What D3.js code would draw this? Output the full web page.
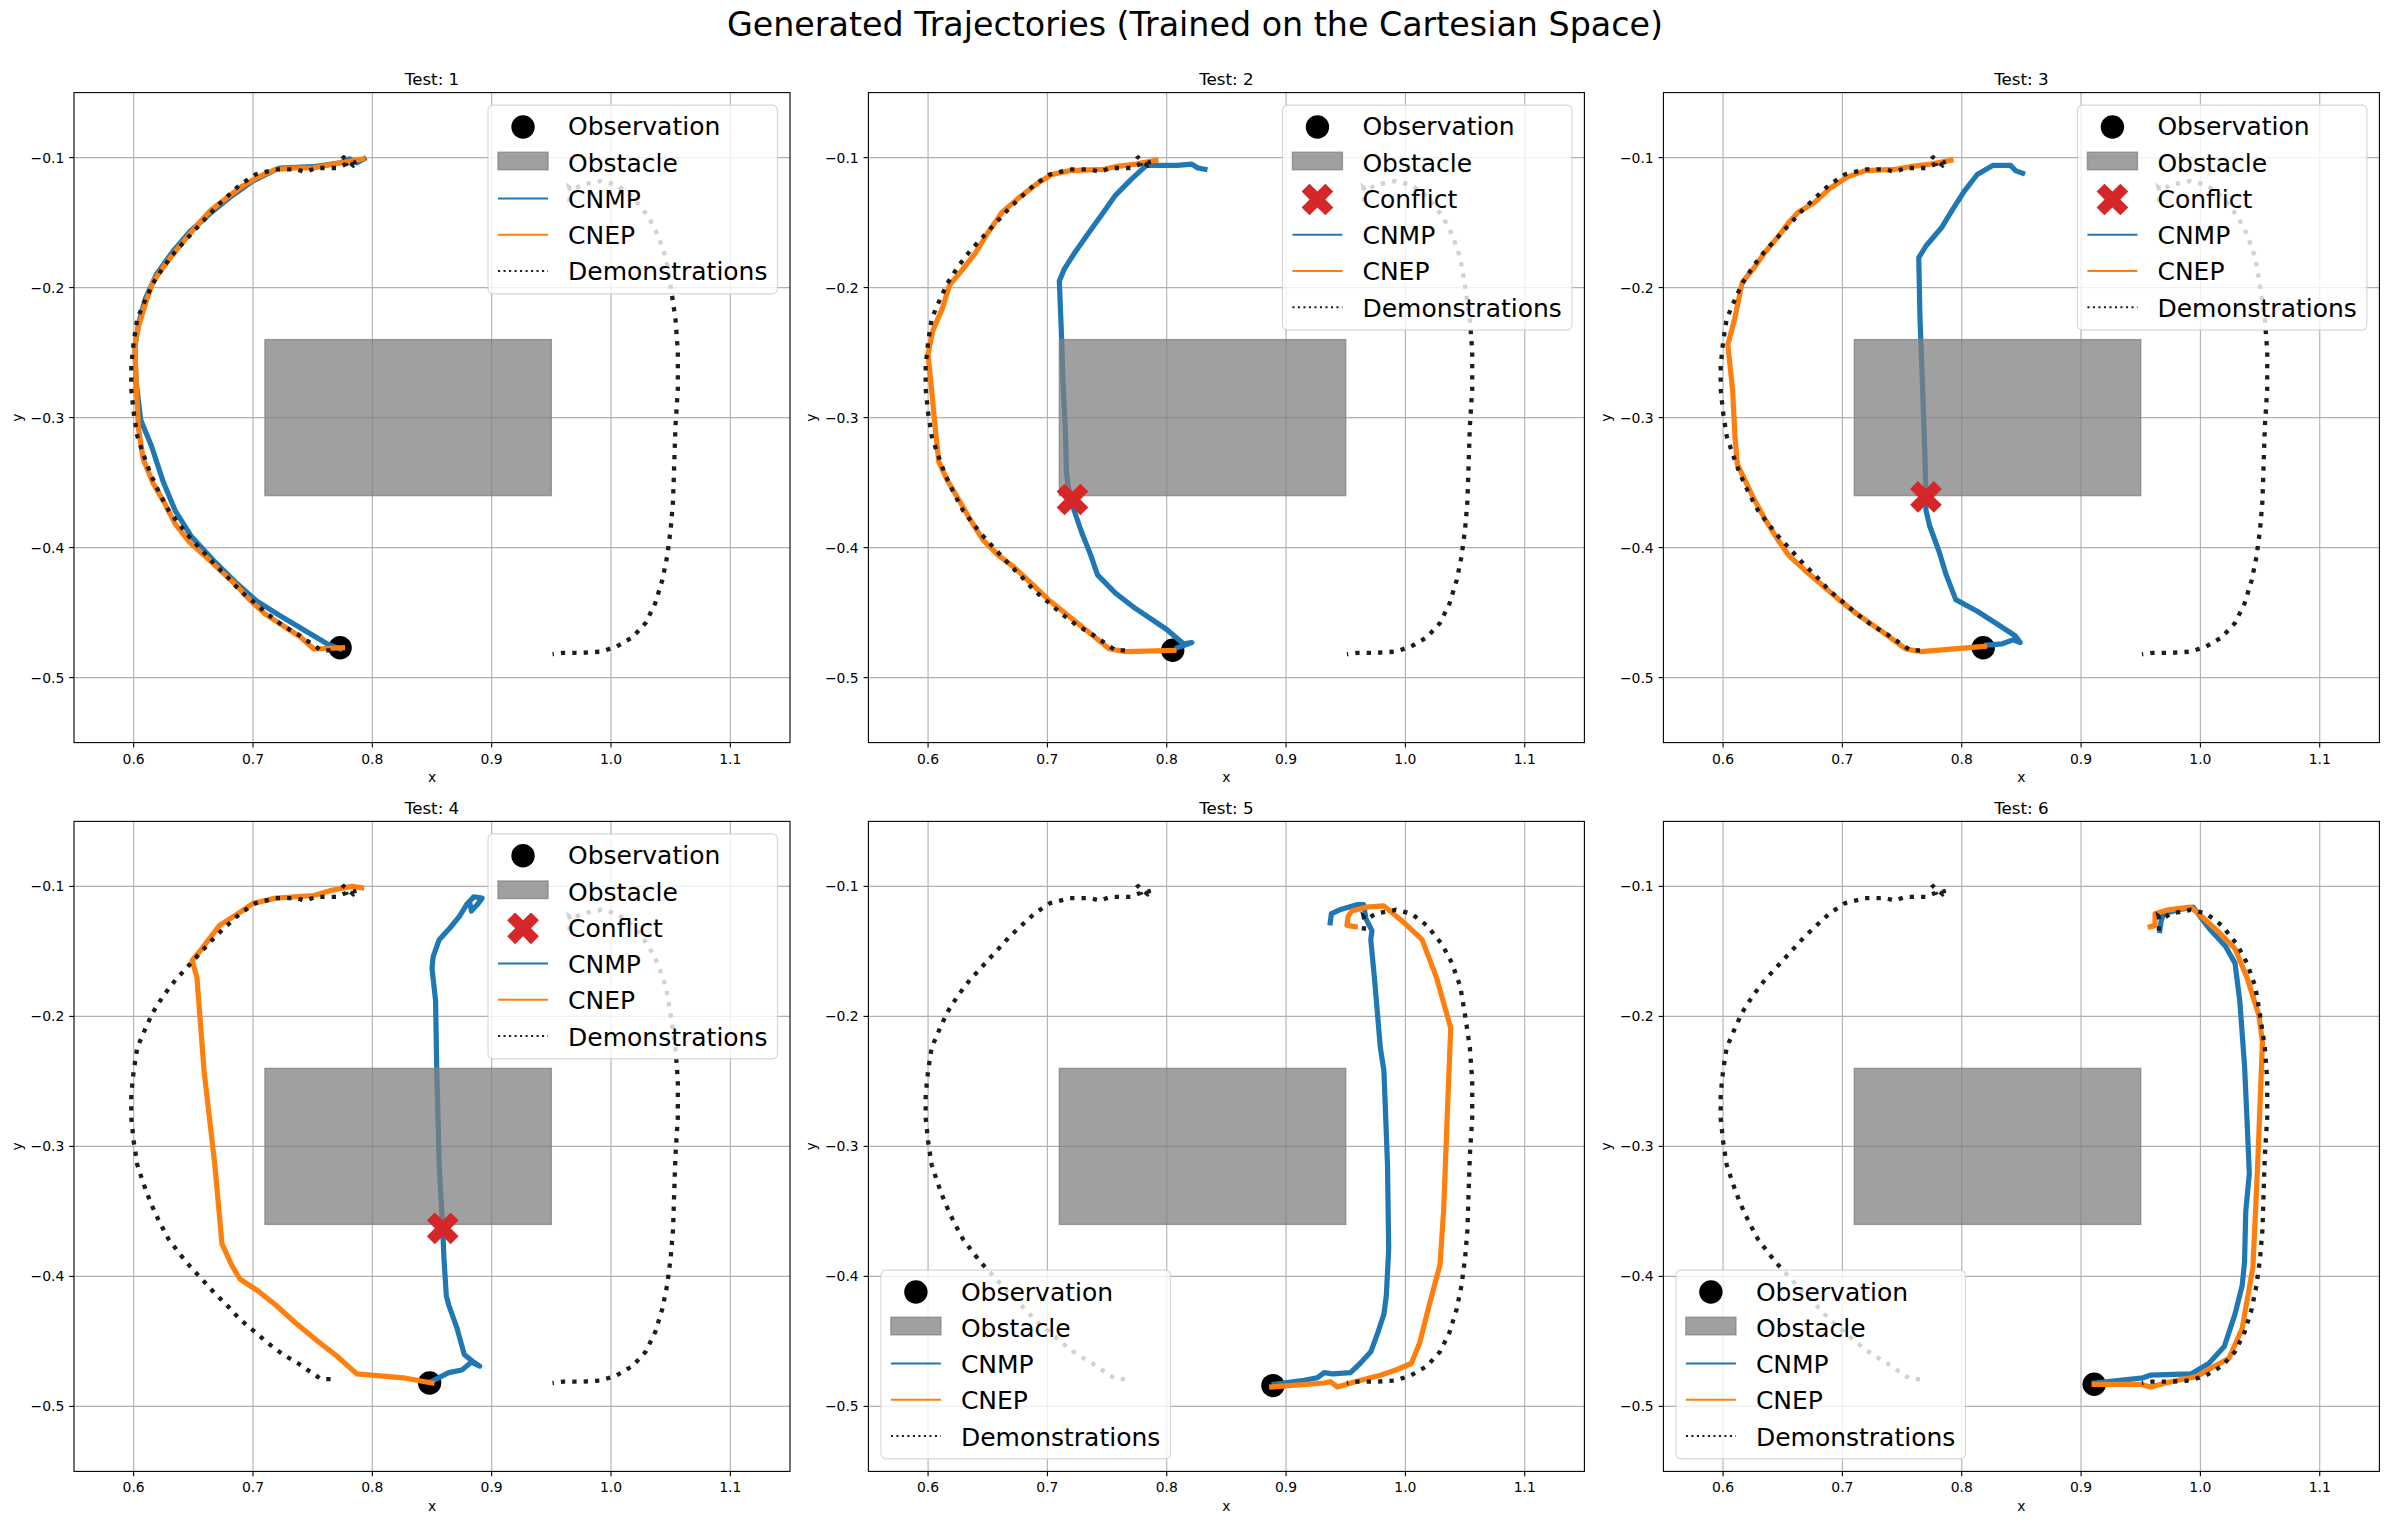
<!DOCTYPE html>
<html><head><meta charset="utf-8">
<script src="https://cdn.jsdelivr.net/npm/d3@7"></script>
<style>html,body{margin:0;padding:0;background:#fff}svg{display:block}</style>
</head><body>
<svg id="chart" width="2390" height="1524"></svg>
<script>
// ---------------- DATA ----------------
const suptitle = "Generated Trajectories (Trained on the Cartesian Space)";
const panelTitles = ["Test: 1", "Test: 2", "Test: 3", "Test: 4", "Test: 5", "Test: 6"];
const xTicks = [0.6, 0.7, 0.8, 0.9, 1.0, 1.1];
const xTickLabels = ["0.6", "0.7", "0.8", "0.9", "1.0", "1.1"];
const yTicks = [-0.5, -0.4, -0.3, -0.2, -0.1];
const yTickLabels = ["\u22120.5", "\u22120.4", "\u22120.3", "\u22120.2", "\u22120.1"];
const xDomain = [0.55, 1.15];
const yDomain = [-0.55, -0.05];
const obstacleX = [0.71, 0.95];
const obstacleY = [-0.36, -0.24];
const legendLabels = ["Observation", "Obstacle", "Conflict", "CNMP", "CNEP", "Demonstrations"];
const legendLoc = ["ur", "ur", "ur", "ur", "ll", "ll"];

const demoLeft = [[0.765,-0.479],[0.757,-0.479],[0.749,-0.474],[0.738,-0.467],[0.725,-0.460],[0.712,-0.451],[0.702,-0.443],[0.689,-0.433],[0.678,-0.422],[0.668,-0.413],[0.657,-0.402],[0.646,-0.391],[0.638,-0.382],[0.629,-0.371],[0.621,-0.357],[0.614,-0.343],[0.608,-0.328],[0.603,-0.314],[0.600,-0.296],[0.598,-0.278],[0.598,-0.260],[0.600,-0.242],[0.603,-0.224],[0.610,-0.209],[0.616,-0.197],[0.625,-0.184],[0.635,-0.172],[0.646,-0.161],[0.657,-0.150],[0.668,-0.139],[0.676,-0.132],[0.689,-0.121],[0.702,-0.113],[0.719,-0.109],[0.736,-0.109],[0.744,-0.111],[0.753,-0.108],[0.770,-0.108],[0.778,-0.105],[0.775,-0.099],[0.780,-0.103],[0.784,-0.106],[0.788,-0.103],[0.784,-0.104]];
const demoRight = [[0.965,-0.134],[0.966,-0.127],[0.965,-0.123],[0.968,-0.125],[0.975,-0.121],[0.992,-0.118],[1.005,-0.121],[1.018,-0.130],[1.031,-0.145],[1.039,-0.159],[1.046,-0.177],[1.050,-0.199],[1.054,-0.224],[1.056,-0.249],[1.056,-0.278],[1.054,-0.307],[1.053,-0.335],[1.052,-0.364],[1.050,-0.386],[1.047,-0.407],[1.043,-0.425],[1.037,-0.443],[1.029,-0.458],[1.018,-0.469],[1.005,-0.476],[0.992,-0.480],[0.975,-0.481],[0.960,-0.481],[0.951,-0.482]];

const observations = [[0.773,-0.477],[0.805,-0.479],[0.818,-0.477],[0.848,-0.482],[0.889,-0.484],[0.911,-0.483]];
const conflicts = [null, [0.721,-0.363], [0.770,-0.361], [0.859,-0.363], null, null];

const cnmp1 = [[0.773,-0.478],[0.762,-0.474],[0.742,-0.463],[0.722,-0.452],[0.703,-0.441],[0.687,-0.428],[0.667,-0.410],[0.648,-0.391],[0.635,-0.372],[0.625,-0.350],[0.615,-0.322],[0.606,-0.302],[0.602,-0.272],[0.601,-0.246],[0.604,-0.228],[0.610,-0.208],[0.619,-0.190],[0.633,-0.172],[0.647,-0.157],[0.664,-0.143],[0.680,-0.131],[0.700,-0.118],[0.722,-0.108],[0.750,-0.107],[0.773,-0.104],[0.781,-0.101],[0.787,-0.104],[0.793,-0.101]];
const cnep1 = [[0.775,-0.477],[0.751,-0.478],[0.740,-0.469],[0.725,-0.460],[0.710,-0.451],[0.697,-0.440],[0.685,-0.428],[0.672,-0.417],[0.659,-0.406],[0.647,-0.396],[0.635,-0.382],[0.626,-0.366],[0.616,-0.350],[0.608,-0.332],[0.604,-0.308],[0.602,-0.272],[0.601,-0.244],[0.604,-0.230],[0.610,-0.212],[0.616,-0.196],[0.625,-0.184],[0.635,-0.172],[0.645,-0.161],[0.655,-0.150],[0.664,-0.141],[0.678,-0.131],[0.691,-0.122],[0.704,-0.115],[0.719,-0.109],[0.736,-0.108],[0.750,-0.108],[0.762,-0.106],[0.774,-0.104],[0.792,-0.101]];

const cnmp2 = [[0.809,-0.477],[0.821,-0.473],[0.814,-0.474],[0.800,-0.463],[0.774,-0.447],[0.757,-0.435],[0.742,-0.421],[0.736,-0.405],[0.729,-0.389],[0.723,-0.373],[0.719,-0.362],[0.716,-0.343],[0.715,-0.308],[0.713,-0.272],[0.712,-0.241],[0.710,-0.195],[0.714,-0.186],[0.723,-0.173],[0.736,-0.156],[0.747,-0.142],[0.757,-0.129],[0.770,-0.117],[0.783,-0.106],[0.791,-0.106],[0.809,-0.106],[0.821,-0.105],[0.826,-0.108],[0.832,-0.109]];
const cnep2 = [[0.806,-0.479],[0.766,-0.480],[0.752,-0.478],[0.736,-0.466],[0.717,-0.452],[0.702,-0.441],[0.687,-0.428],[0.672,-0.415],[0.659,-0.406],[0.646,-0.394],[0.635,-0.378],[0.625,-0.362],[0.616,-0.348],[0.609,-0.334],[0.606,-0.308],[0.603,-0.279],[0.600,-0.251],[0.604,-0.233],[0.612,-0.216],[0.618,-0.198],[0.629,-0.186],[0.640,-0.173],[0.650,-0.158],[0.662,-0.142],[0.676,-0.131],[0.693,-0.119],[0.704,-0.113],[0.719,-0.110],[0.747,-0.109],[0.757,-0.107],[0.774,-0.105],[0.791,-0.102]];

const cnmp3 = [[0.821,-0.475],[0.834,-0.474],[0.843,-0.471],[0.849,-0.473],[0.845,-0.468],[0.830,-0.459],[0.813,-0.449],[0.795,-0.440],[0.787,-0.421],[0.781,-0.403],[0.773,-0.383],[0.770,-0.371],[0.770,-0.361],[0.769,-0.325],[0.767,-0.272],[0.765,-0.223],[0.764,-0.177],[0.770,-0.168],[0.783,-0.154],[0.791,-0.142],[0.802,-0.126],[0.813,-0.113],[0.826,-0.106],[0.841,-0.106],[0.845,-0.110],[0.851,-0.112]];
const cnep3 = [[0.819,-0.476],[0.766,-0.480],[0.753,-0.478],[0.734,-0.465],[0.712,-0.451],[0.697,-0.440],[0.682,-0.428],[0.668,-0.417],[0.655,-0.406],[0.646,-0.394],[0.635,-0.378],[0.625,-0.361],[0.612,-0.336],[0.610,-0.315],[0.608,-0.279],[0.604,-0.244],[0.610,-0.223],[0.616,-0.196],[0.625,-0.186],[0.635,-0.173],[0.646,-0.161],[0.655,-0.150],[0.663,-0.142],[0.676,-0.135],[0.689,-0.124],[0.704,-0.115],[0.719,-0.110],[0.744,-0.109],[0.757,-0.107],[0.774,-0.105],[0.791,-0.102]];

const cnmp4 = [[0.849,-0.481],[0.864,-0.474],[0.875,-0.472],[0.883,-0.466],[0.890,-0.469],[0.885,-0.466],[0.877,-0.460],[0.871,-0.440],[0.864,-0.422],[0.862,-0.415],[0.860,-0.386],[0.859,-0.364],[0.856,-0.314],[0.854,-0.242],[0.853,-0.188],[0.850,-0.163],[0.851,-0.154],[0.856,-0.141],[0.865,-0.132],[0.873,-0.123],[0.879,-0.114],[0.885,-0.108],[0.892,-0.109],[0.888,-0.114],[0.883,-0.119],[0.882,-0.114]];
const cnep4 = [[0.850,-0.482],[0.826,-0.478],[0.787,-0.475],[0.770,-0.461],[0.753,-0.449],[0.736,-0.436],[0.719,-0.422],[0.704,-0.411],[0.689,-0.402],[0.682,-0.391],[0.674,-0.375],[0.668,-0.314],[0.659,-0.242],[0.653,-0.170],[0.649,-0.157],[0.657,-0.148],[0.672,-0.130],[0.689,-0.120],[0.700,-0.113],[0.719,-0.109],[0.751,-0.107],[0.766,-0.103],[0.783,-0.100],[0.791,-0.101]];

const cnmp5 = [[0.890,-0.483],[0.915,-0.480],[0.926,-0.478],[0.932,-0.474],[0.939,-0.475],[0.954,-0.474],[0.962,-0.467],[0.971,-0.458],[0.977,-0.443],[0.982,-0.429],[0.984,-0.415],[0.986,-0.379],[0.985,-0.314],[0.982,-0.242],[0.979,-0.224],[0.974,-0.170],[0.971,-0.141],[0.972,-0.134],[0.967,-0.125],[0.965,-0.114],[0.960,-0.114],[0.945,-0.118],[0.938,-0.121],[0.937,-0.128]];
const cnep5 = [[0.888,-0.485],[0.932,-0.482],[0.937,-0.481],[0.943,-0.485],[0.958,-0.481],[0.979,-0.476],[0.992,-0.472],[1.005,-0.467],[1.012,-0.451],[1.020,-0.422],[1.029,-0.391],[1.032,-0.350],[1.035,-0.278],[1.038,-0.209],[1.026,-0.170],[1.014,-0.141],[0.999,-0.128],[0.982,-0.115],[0.967,-0.116],[0.955,-0.119],[0.952,-0.123],[0.951,-0.130],[0.958,-0.131]];

const cnmp6 = [[0.911,-0.482],[0.952,-0.478],[0.958,-0.476],[0.992,-0.475],[1.007,-0.467],[1.020,-0.454],[1.029,-0.429],[1.035,-0.407],[1.037,-0.389],[1.038,-0.350],[1.041,-0.321],[1.039,-0.278],[1.037,-0.238],[1.033,-0.188],[1.029,-0.159],[1.021,-0.146],[1.007,-0.132],[0.994,-0.116],[0.982,-0.118],[0.969,-0.121],[0.967,-0.127],[0.966,-0.134]];
const cnep6 = [[0.911,-0.483],[0.950,-0.483],[0.958,-0.485],[0.975,-0.481],[0.997,-0.477],[1.012,-0.469],[1.024,-0.463],[1.035,-0.440],[1.044,-0.393],[1.048,-0.314],[1.052,-0.220],[1.049,-0.199],[1.039,-0.170],[1.029,-0.148],[1.014,-0.134],[1.001,-0.123],[0.992,-0.116],[0.973,-0.118],[0.962,-0.121],[0.962,-0.130],[0.958,-0.131]];

const cnmpSeries = [cnmp1, cnmp2, cnmp3, cnmp4, cnmp5, cnmp6];
const cnepSeries = [cnep1, cnep2, cnep3, cnep4, cnep5, cnep6];

// ---------------- LAYOUT / STYLE ----------------
const FONT = "DejaVu Sans";
const colLefts = [74, 868.4, 1663.4];
const rowTops = [92.6, 821.4];
const PW = 716, PH = 650;
const C_BLUE = "#1f77b4", C_ORANGE = "#ff7f0e", C_RED = "#d62728", C_DEMO = "#1e1e1e";
const LW = 5.2;

const svg = d3.select("#chart");
svg.append("rect").attr("width", 2390).attr("height", 1524).attr("fill", "#fff");

svg.append("text").attr("x", 1195).attr("y", 35.7).attr("text-anchor", "middle")
  .attr("font-family", FONT).attr("font-size", 33.3).attr("fill", "#000").text(suptitle);

function xMarkerPath(cx, cy, s) {
  const v = [[-1,-2],[0,-1],[1,-2],[2,-1],[1,0],[2,1],[1,2],[0,1],[-1,2],[-2,1],[-1,0],[-2,-1]];
  return "M" + v.map(([a, b]) => `${cx + a * s / 4},${cy + b * s / 4}`).join("L") + "Z";
}

function drawPanel(i) {
  const L = colLefts[i % 3], T = rowTops[Math.floor(i / 3)];
  const x = d3.scaleLinear().domain(xDomain).range([L, L + PW]);
  const y = d3.scaleLinear().domain(yDomain).range([T + PH, T]);
  const g = svg.append("g");
  const clipId = "clip" + i;
  g.append("clipPath").attr("id", clipId).append("rect")
    .attr("x", L).attr("y", T).attr("width", PW).attr("height", PH);

  // grid
  const grid = g.append("g").attr("stroke", "#b0b0b0").attr("stroke-width", 1.1);
  xTicks.forEach(t => grid.append("line").attr("x1", x(t)).attr("x2", x(t)).attr("y1", T).attr("y2", T + PH));
  yTicks.forEach(t => grid.append("line").attr("y1", y(t)).attr("y2", y(t)).attr("x1", L).attr("x2", L + PW));

  const plot = g.append("g").attr("clip-path", `url(#${clipId})`);
  const line = d3.line().x(d => x(d[0])).y(d => y(d[1]));

  // observation
  const ob = observations[i];
  plot.append("circle").attr("cx", x(ob[0])).attr("cy", y(ob[1])).attr("r", 11.7).attr("fill", "#000");

  plot.append("path").attr("d", line(cnmpSeries[i])).attr("fill", "none").attr("stroke", C_BLUE)
    .attr("stroke-width", LW).attr("stroke-linejoin", "round").attr("stroke-linecap", "square");
  plot.append("path").attr("d", line(cnepSeries[i])).attr("fill", "none").attr("stroke", C_ORANGE)
    .attr("stroke-width", LW).attr("stroke-linejoin", "round").attr("stroke-linecap", "square");

  [demoLeft, demoRight].forEach(dm => {
    plot.append("path").attr("d", line(dm)).attr("fill", "none").attr("stroke", C_DEMO)
      .attr("stroke-width", 4.3).attr("stroke-dasharray", "4.3 7.1").attr("stroke-linecap", "butt");
  });

  // obstacle
  plot.append("rect").attr("x", x(obstacleX[0])).attr("y", y(obstacleY[1]))
    .attr("width", x(obstacleX[1]) - x(obstacleX[0])).attr("height", y(obstacleY[0]) - y(obstacleY[1]))
    .attr("fill", "#808080").attr("fill-opacity", 0.75)
    .attr("stroke", "#808080").attr("stroke-opacity", 0.75).attr("stroke-width", 1.4);

  // conflict
  const cf = conflicts[i];
  if (cf) {
    plot.append("path").attr("d", xMarkerPath(x(cf[0]), y(cf[1]), 31.7)).attr("fill", C_RED);
  }

  // spines
  g.append("rect").attr("x", L).attr("y", T).attr("width", PW).attr("height", PH)
    .attr("fill", "none").attr("stroke", "#000").attr("stroke-width", 1.1);

  // ticks
  const tk = g.append("g").attr("font-family", FONT).attr("font-size", 13.9).attr("fill", "#000");
  xTicks.forEach((t, k) => {
    tk.append("line").attr("x1", x(t)).attr("x2", x(t)).attr("y1", T + PH).attr("y2", T + PH + 4.86)
      .attr("stroke", "#000").attr("stroke-width", 1.1);
    tk.append("text").attr("x", x(t)).attr("y", T + PH + 21).attr("text-anchor", "middle").text(xTickLabels[k]);
  });
  yTicks.forEach((t, k) => {
    tk.append("line").attr("x1", L - 4.86).attr("x2", L).attr("y1", y(t)).attr("y2", y(t))
      .attr("stroke", "#000").attr("stroke-width", 1.1);
    tk.append("text").attr("x", L - 9.7).attr("y", y(t) + 5).attr("text-anchor", "end").text(yTickLabels[k]);
  });
  tk.append("text").attr("x", L + PW / 2).attr("y", T + PH + 39.6).attr("text-anchor", "middle").text("x");
  tk.append("text").attr("transform", `translate(${L - 52},${T + PH / 2}) rotate(-90)`)
    .attr("text-anchor", "middle").text("y");

  // title
  g.append("text").attr("x", L + PW / 2).attr("y", T - 7.5).attr("text-anchor", "middle")
    .attr("font-family", FONT).attr("font-size", 16.7).attr("fill", "#000").text(panelTitles[i]);

  drawLegend(g, legendLoc[i], !!cf, L, T);
}

function drawLegend(g, loc, hasConflict, L, T) {
  const labels = legendLabels.filter(l => hasConflict || l !== "Conflict");
  const fs = 25, pad = 10, rowH = 23.75, gap = 12.5;
  const tmp = g.append("text").attr("font-family", FONT).attr("font-size", fs).text(labels[labels.length - 1]);
  const tw = tmp.node().getComputedTextLength();
  tmp.remove();
  const bw = pad + 50 + 20 + tw + pad;
  const bh = labels.length * rowH + (labels.length - 1) * gap + 2 * pad;
  let bx, by;
  if (loc === "ur") { bx = L + PW - 12.5 - bw; by = T + 12.5; }
  else { bx = L + 12.5; by = T + PH - 12.5 - bh; }
  const lg = g.append("g");
  lg.append("rect").attr("x", bx).attr("y", by).attr("width", bw).attr("height", bh)
    .attr("rx", 5).attr("ry", 5).attr("fill", "#fff").attr("fill-opacity", 0.8)
    .attr("stroke", "#cccccc").attr("stroke-opacity", 0.8).attr("stroke-width", 1.1);
  labels.forEach((lab, k) => {
    const rc = by + pad + rowH / 2 + k * (rowH + gap);
    const hx0 = bx + pad, hx1 = bx + pad + 50, hc = bx + pad + 25;
    if (lab === "Observation") {
      lg.append("circle").attr("cx", hc).attr("cy", rc).attr("r", 11.7).attr("fill", "#000");
    } else if (lab === "Obstacle") {
      lg.append("rect").attr("x", hx0).attr("y", rc - 11).attr("width", 50).attr("height", 17.5)
        .attr("fill", "#808080").attr("fill-opacity", 0.75)
        .attr("stroke", "#808080").attr("stroke-opacity", 0.75).attr("stroke-width", 1.4);
    } else if (lab === "Conflict") {
      lg.append("path").attr("d", xMarkerPath(hc, rc, 31.7)).attr("fill", C_RED);
    } else if (lab === "CNMP" || lab === "CNEP") {
      lg.append("line").attr("x1", hx0).attr("x2", hx1).attr("y1", rc - 1).attr("y2", rc - 1)
        .attr("stroke", lab === "CNMP" ? C_BLUE : C_ORANGE).attr("stroke-width", 2.1);
    } else {
      lg.append("line").attr("x1", hx0).attr("x2", hx1).attr("y1", rc - 1).attr("y2", rc - 1)
        .attr("stroke", C_DEMO).attr("stroke-width", 2.1).attr("stroke-dasharray", "2.1 3.4");
    }
    lg.append("text").attr("x", bx + pad + 50 + 20).attr("y", rc + 8.5)
      .attr("font-family", FONT).attr("font-size", fs).attr("fill", "#000").text(lab);
  });
}

for (let i = 0; i < 6; i++) drawPanel(i);
</script>
</body></html>
